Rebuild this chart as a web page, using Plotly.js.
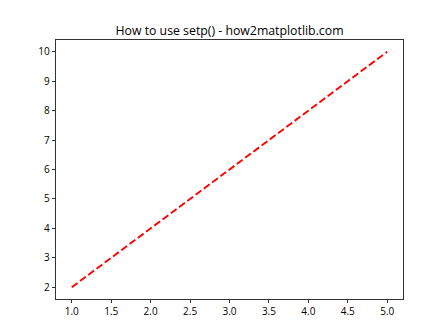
<!DOCTYPE html>
<html>
<head>
<meta charset="utf-8">
<script src="https://cdn.plot.ly/plotly-3.0.1.min.js"></script>
<style>html,body{margin:0;padding:0;background:#fff;}#chart{width:448px;height:336px;}</style>
</head>
<body>
<div id="chart"></div>
<script>
var xValues = [1, 2, 3, 4, 5];
var yValues = [2, 4, 6, 8, 10];
var xTicks = [1.0, 1.5, 2.0, 2.5, 3.0, 3.5, 4.0, 4.5, 5.0];
var xTickLabels = ["1.0", "1.5", "2.0", "2.5", "3.0", "3.5", "4.0", "4.5", "5.0"];
var yTicks = [2, 3, 4, 5, 6, 7, 8, 9, 10];
var yTickLabels = ["2", "3", "4", "5", "6", "7", "8", "9", "10"];
var chartTitle = "How to use setp() - how2matplotlib.com";

var fontFam = "Open Sans, DejaVu Sans, sans-serif";
var axisCommon = {
  showgrid: false, zeroline: false, showline: true, mirror: true,
  linecolor: "#000", linewidth: 0.8, ticks: "outside", ticklen: 3.5,
  tickwidth: 0.8, tickcolor: "#000", tickfont: {family: fontFam, size: 10, color: "#000"}
};
var layout = {
  width: 448, height: 336,
  margin: {l: 56, r: 45, t: 40, b: 37, pad: 0},
  paper_bgcolor: "#fff", plot_bgcolor: "#fff",
  showlegend: false,
  title: {text: chartTitle, font: {family: fontFam, size: 12.3, color: "#000"}, x: 0.5, xref: "paper", y: 1, yref: "paper", yanchor: "bottom", pad: {b: 5}},
  xaxis: Object.assign({}, axisCommon, {range: [0.8, 5.2], tickvals: xTicks, ticktext: xTickLabels}),
  yaxis: Object.assign({}, axisCommon, {range: [1.6, 10.4], tickvals: yTicks, ticktext: yTickLabels})
};
var trace = {
  x: xValues, y: yValues, type: "scatter", mode: "lines",
  line: {color: "#ff0000", width: 1.9, dash: "7.2px,3.1px"}
};
Plotly.newPlot("chart", [trace], layout, {staticPlot: true, displayModeBar: false});
</script>
</body>
</html>
